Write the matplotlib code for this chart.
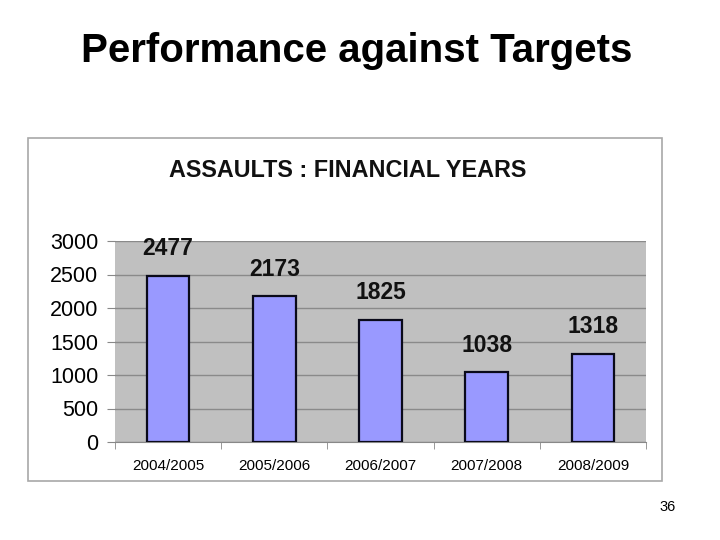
import matplotlib
matplotlib.use("Agg")
import matplotlib.pyplot as plt
from matplotlib.patches import Rectangle
import numpy as np

categories = ["2004/2005", "2005/2006", "2006/2007", "2007/2008", "2008/2009"]
values = [2477, 2173, 1825, 1038, 1318]
yticks = [0, 500, 1000, 1500, 2000, 2500, 3000]

plt.rcParams['font.family'] = ['Liberation Sans', 'DejaVu Sans']

fig = plt.figure(figsize=(7.2, 5.4), dpi=100)
fig.patch.set_facecolor('white')

# slide title
fig.text(357/720, 1 - 51/540, "Performance against Targets", ha='center', va='center',
         fontsize=29, fontweight='bold', color='black')

# chart frame
frame = Rectangle((28/720, 1 - 481/540), (662-28)/720, (481-138)/540,
                  transform=fig.transFigure, facecolor='white', edgecolor='#A8A8A8',
                  linewidth=1.2, zorder=-1)
fig.patches.append(frame)

fig.text(348/720, 1 - 170/540, "ASSAULTS : FINANCIAL YEARS", ha='center', va='center',
         fontsize=16.8, fontweight='bold', color='#111111')

ax = fig.add_axes([115/720, 1 - 442/540, (646-115)/720, (442-241)/540], zorder=2)
ax.set_facecolor('#C0C0C0')
x = np.arange(len(categories))
ax.bar(x, values, width=0.4, color='#9999FF', edgecolor='#0A0A1A', linewidth=1.6, zorder=3)
for xi, v in zip(x, values):
    ax.annotate(str(v), (xi, v), xytext=(0, 19.5), textcoords='offset points',
                ha='center', va='center', fontsize=16.5, fontweight='bold', color='#111111')

ax.set_xlim(-0.5, len(categories) - 0.5)
ax.set_ylim(0, 3000)
ax.set_yticks(yticks)
ax.set_yticklabels([str(t) for t in yticks], fontsize=15.5)
ax.yaxis.grid(True, color='#8A8A8A', linewidth=1.0, zorder=0)
ax.set_axisbelow(True)
ax.set_xticks(x)
ax.set_xticklabels(categories, fontsize=11)
ax.set_xticks(np.arange(-0.5, len(categories)), minor=True)
ax.tick_params(axis='x', which='major', length=0, pad=12)
ax.tick_params(axis='x', which='minor', length=5, color='#888888', direction='out')
ax.tick_params(axis='y', length=6, color='#888888', direction='out', pad=6)
for s in ['top', 'right', 'left']:
    ax.spines[s].set_visible(False)
ax.spines['bottom'].set_color('#888888')

fig.text(668/720, 1 - 507/540, "36", ha='center', va='center', fontsize=10.5, color='black')

fig.savefig("out.png", dpi=100)
